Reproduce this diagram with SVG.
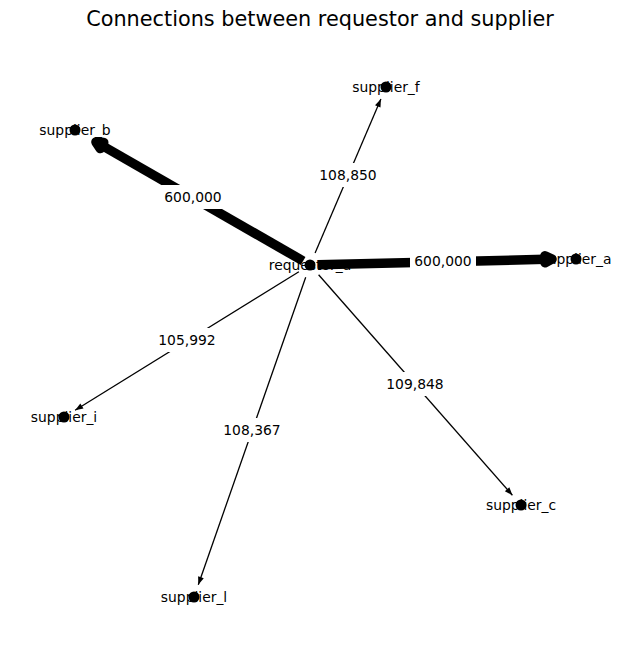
<svg xmlns="http://www.w3.org/2000/svg" width="640" height="660" viewBox="0 0 640 660">
<style>
text{font-family:"DejaVu Sans","Liberation Sans",sans-serif;fill:#000}
.title{font-size:20.8px;text-anchor:middle}
.nl{font-size:13.89px;text-anchor:middle}
.el{font-size:13.89px;text-anchor:middle}
.thin{stroke:#000;stroke-width:1.3;fill:none}
.thick{stroke:#000;stroke-width:9.5;fill:none}
.box{fill:#fff;stroke:none}
.node{fill:#000}
</style>
<defs>
<marker id="ah" markerUnits="userSpaceOnUse" markerWidth="12" markerHeight="12" refX="8" refY="3" orient="auto" overflow="visible">
<path d="M0,0 L8,3 L0,6 z" fill="#000"/>
</marker>
<marker id="ahk" markerUnits="userSpaceOnUse" markerWidth="20" markerHeight="20" refX="0" refY="0" orient="auto" overflow="visible">
<path d="M0,-3.5 L7,0 L0,3.5 z" fill="#000" stroke="#000" stroke-width="9.5" stroke-linejoin="round"/>
</marker>
</defs>
<rect width="640" height="660" fill="#fff"/>
<text class="title" x="320" y="26">Connections between requestor and supplier</text>
<g id="edges">
<line class="thick" x1="318" y1="264.8" x2="545" y2="259.3" marker-end="url(#ahk)"/>
<line class="thick" x1="303.1" y1="261" x2="102" y2="145.5" marker-end="url(#ahk)"/>
<line class="thin" x1="315.1" y1="253" x2="380.9" y2="99" marker-end="url(#ah)"/>
<line class="thin" x1="318.6" y1="274.8" x2="512.4" y2="495.2" marker-end="url(#ah)"/>
<line class="thin" x1="305.7" y1="277.3" x2="198.3" y2="584.7" marker-end="url(#ah)"/>
<line class="thin" x1="298.9" y1="271.8" x2="75.1" y2="410.2" marker-end="url(#ah)"/>
</g>
<g id="requestor_a"><circle class="node" cx="310" cy="265" r="5.5"/><text class="nl" x="310" y="269.5">requestor_a</text></g>
<g id="supplier_a"><circle class="node" cx="576" cy="259" r="5.5"/><text class="nl" x="576" y="263.5">supplier_a</text></g>
<g id="supplier_b"><circle class="node" cx="75" cy="130" r="5.5"/><text class="nl" x="75" y="134.5">supplier_b</text></g>
<g id="supplier_f"><circle class="node" cx="386" cy="87" r="5.5"/><text class="nl" x="386" y="91.5">supplier_f</text></g>
<g id="supplier_i"><circle class="node" cx="64" cy="417" r="5.5"/><text class="nl" x="64" y="421.5">supplier_i</text></g>
<g id="supplier_l"><circle class="node" cx="194" cy="597" r="5.5"/><text class="nl" x="194" y="601.5">supplier_l</text></g>
<g id="supplier_c"><circle class="node" cx="521" cy="505" r="5.5"/><text class="nl" x="521" y="509.5">supplier_c</text></g>
<g id="edge-labels">
<rect class="box" x="410" y="249" width="66" height="24" rx="2"/><text class="el" x="443" y="266">600,000</text>
<rect class="box" x="160" y="185" width="66" height="24" rx="2"/><text class="el" x="193" y="202">600,000</text>
<rect class="box" x="315" y="163" width="66" height="24" rx="2"/><text class="el" x="348" y="180">108,850</text>
<rect class="box" x="154" y="328" width="66" height="24" rx="2"/><text class="el" x="187" y="345">105,992</text>
<rect class="box" x="219" y="418" width="66" height="24" rx="2"/><text class="el" x="252" y="435">108,367</text>
<rect class="box" x="382" y="372" width="66" height="24" rx="2"/><text class="el" x="415" y="389">109,848</text>
</g>
</svg>
